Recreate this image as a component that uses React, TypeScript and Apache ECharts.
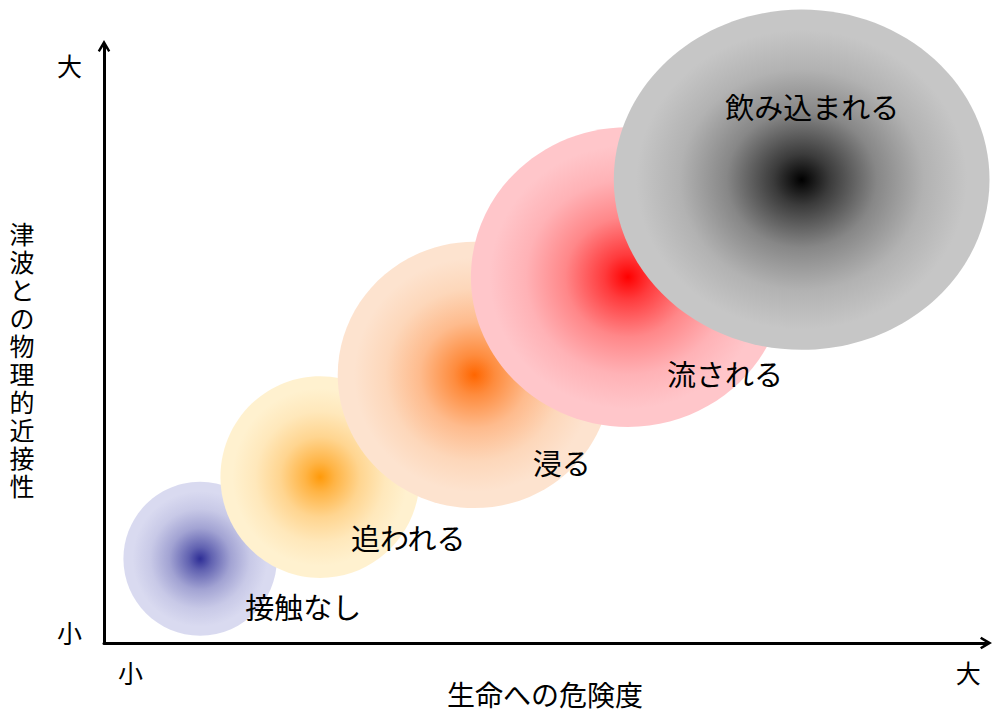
import React, { useEffect, useRef } from "react";
import * as echarts from "echarts";

// Bubble data (axis units: x 0-100, y 0-100)
const names = ["接触なし", "追われる", "浸る", "流される", "飲み込まれる"];
const bubbleX = [10.9, 24.5, 42.0, 59.4, 79.1];
const bubbleY = [14.1, 27.8, 44.9, 61.3, 77.6];
const bubbleW = [8.7, 11.3, 15.5, 17.8, 21.3]; // horizontal radius in x units
const bubbleH = [12.9, 16.9, 22.3, 25.1, 28.5]; // vertical radius in y units
const labelX = [22.6, 34.5, 51.9, 70.4, 80.3];
const labelY = [6.2, 17.8, 30.3, 45.2, 89.9];

const xTickValues = [3, 98];
const xTickLabels = ["小", "大"];
const yTickValues = [1.8, 96.8];
const yTickLabels = ["小", "大"];
const xTitle = "生命への危険度";
const yTitle = "津波との物理的近接性";

const centerColors = ["#2E2E96", "#FF9A0A", "#FF6600", "#FF0000", "#000000"];
const edgeColors = ["#D9DAF0", "#FFF1CF", "#FDE3CF", "#FFC6CA", "#C6C6C6"];

const FONT = "'Noto Sans CJK JP', 'Noto Sans', sans-serif";
const VFONT = "'Liberation Sans', 'Noto Sans CJK JP', sans-serif";
const ARROW = "path://M5,0 L10,8.5 L8.4,9.6 L5,4.2 L1.6,9.6 L0,8.5 Z";

function mix(a: string, b: string, t: number) {
  const pa = [1, 3, 5].map((k) => parseInt(a.slice(k, k + 2), 16));
  const pb = [1, 3, 5].map((k) => parseInt(b.slice(k, k + 2), 16));
  const c = pa.map((v, i) => Math.round(v + (pb[i] - v) * t));
  return `rgb(${c[0]},${c[1]},${c[2]})`;
}

export default function App() {
  const ref = useRef<HTMLDivElement>(null);
  useEffect(() => {
    if (!ref.current) return;
    const chart = echarts.init(ref.current, undefined, { renderer: "svg" });
    const bubbleData = bubbleX.map((x, i) => [x, bubbleY[i], bubbleW[i], bubbleH[i], i]);
    const labelData = labelX.map((x, i) => ({ value: [x, labelY[i]], name: names[i] }));
    const axisCommon = {
      type: "value" as const,
      min: 0,
      max: 100,
      splitLine: { show: false },
      axisTick: { show: false },
      axisLine: {
        show: true,
        symbol: ["none", ARROW],
        symbolSize: [13, 12],
        lineStyle: { color: "#000", width: 3 },
      },
    };
    chart.setOption({
      animation: false,
      backgroundColor: "#fff",
      grid: { left: 104, right: 7, top: 46, bottom: 70, containLabel: false, outerBoundsMode: "none" },
      xAxis: {
        ...axisCommon,
        name: xTitle,
        nameLocation: "middle",
        nameGap: 53,
        nameMoveOverlap: false,
        nameTextStyle: { fontFamily: VFONT, fontSize: 28, color: "#000", lineHeight: 26, verticalAlign: "middle" },
        axisLabel: {
          customValues: xTickValues,
          formatter: (v: number) => xTickLabels[xTickValues.indexOf(v)] ?? "",
          fontFamily: FONT,
          fontSize: 25,
          color: "#000",
          margin: 16,
        },
      },
      yAxis: {
        ...axisCommon,
        axisLabel: {
          customValues: yTickValues,
          formatter: (v: number) => yTickLabels[yTickValues.indexOf(v)] ?? "",
          fontFamily: FONT,
          fontSize: 25,
          color: "#000",
          margin: 22,
        },
      },
      graphic: [
        {
          type: "text",
          x: 22,
          y: 361,
          style: {
            text: yTitle.split("").join("\n"),
            fontFamily: VFONT,
            fontSize: 25,
            lineHeight: 28,
            fill: "#000",
            align: "center",
            verticalAlign: "middle",
          },
        },
      ],
      series: [
        {
          type: "custom",
          clip: false,
          data: bubbleData,
          encode: { x: 0, y: 1 },
          renderItem: (params: any, api: any) => {
            const c = api.coord([api.value(0), api.value(1)]);
            const s = api.size([api.value(2), api.value(3)]);
            const i = api.value(4);
            const a = centerColors[i];
            const b = edgeColors[i];
            return {
              type: "ellipse",
              shape: { cx: c[0], cy: c[1], rx: s[0], ry: s[1] },
              style: {
                fill: {
                  type: "radial",
                  x: 0.5,
                  y: 0.5,
                  r: 0.5,
                  colorStops: [
                    { offset: 0, color: a },
                    { offset: 0.15, color: mix(a, b, 0.3) },
                    { offset: 0.4, color: mix(a, b, 0.68) },
                    { offset: 0.65, color: mix(a, b, 0.9) },
                    { offset: 0.88, color: b },
                    { offset: 1, color: b },
                  ],
                },
              },
            };
          },
          z: 2,
        },
        {
          type: "scatter",
          data: labelData,
          symbolSize: 0,
          itemStyle: { opacity: 1 },
          z: 5,
          label: {
            show: true,
            position: "inside",
            formatter: (p: any) => p.name,
            fontFamily: FONT,
            fontSize: 29,
            color: "#000",
            opacity: 1,
          },
        },
      ],
    });
    return () => chart.dispose();
  }, []);
  return (
    <div
      ref={ref}
      style={{ position: "fixed", left: 0, top: 0, width: 993, height: 713, background: "#fff" }}
    />
  );
}
